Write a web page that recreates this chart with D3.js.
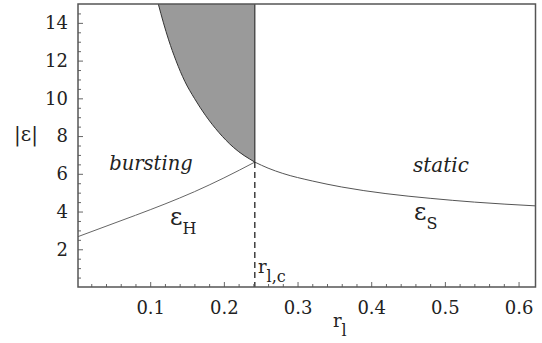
<!DOCTYPE html>
<html><head><meta charset="utf-8">
<script src="https://cdn.jsdelivr.net/npm/d3@7"></script>
<style>
html,body{margin:0;padding:0;background:#fff;}
svg text{font-family:"DejaVu Serif","Liberation Serif",serif;}
</style></head>
<body>
<svg id="chart" width="542" height="343"></svg>
<script>
// ---- data ----
const xTicks = [0.1, 0.2, 0.3, 0.4, 0.5, 0.6];
const yTicks = [2, 4, 6, 8, 10, 12, 14];
const rCritical = 0.242;
const epsCritical = 6.62;
// boundary of the grey region (upper branch)
const rGrey   = [0.111, 0.118, 0.125, 0.135, 0.147, 0.160, 0.175, 0.193, 0.213, 0.242];
const epsGrey = [15.0, 14.0, 13.1, 12.0, 10.9, 10.0, 9.1, 8.2, 7.4, 6.62];
// eps_H curve
const rH   = [0.002, 0.04, 0.08, 0.12, 0.16, 0.20, 0.242];
const epsH = [2.67, 3.22, 3.80, 4.40, 5.05, 5.78, 6.62];
// eps_S curve
const rS   = [0.242, 0.26, 0.28, 0.32, 0.36, 0.42, 0.48, 0.54, 0.623];
const epsS = [6.62, 6.30, 6.02, 5.62, 5.30, 4.95, 4.70, 4.50, 4.30];

const svg = d3.select("#chart");
const x = d3.scaleLinear().domain([0.002, 0.623]).range([78, 535.5]);
const y = d3.scaleLinear().domain([0, 15]).range([287, 4]);
const yTop = 15;

// grey region
const greyPts = rGrey.map((r, i) => [r, epsGrey[i]]);
svg.append("path")
  .datum(greyPts)
  .attr("d", d3.area().x(d => x(d[0])).y0(y(yTop)).y1(d => y(d[1])).curve(d3.curveMonotoneX))
  .attr("fill", "#9a9a9a");
svg.append("path")
  .datum(greyPts)
  .attr("d", d3.line().x(d => x(d[0])).y(d => y(d[1])).curve(d3.curveMonotoneX))
  .attr("fill", "none").attr("stroke", "#333").attr("stroke-width", 1);

// eps_H, eps_S curves
const line = d3.line().x(d => x(d[0])).y(d => y(d[1])).curve(d3.curveMonotoneX);
svg.append("path").datum(rH.map((r, i) => [r, epsH[i]]))
  .attr("d", line).attr("fill", "none").attr("stroke", "#666").attr("stroke-width", 1);
svg.append("path").datum(rS.map((r, i) => [r, epsS[i]]))
  .attr("d", line).attr("fill", "none").attr("stroke", "#555").attr("stroke-width", 1);

// critical vertical line
svg.append("line")
  .attr("x1", x(rCritical)).attr("x2", x(rCritical))
  .attr("y1", y(yTop)).attr("y2", y(epsCritical))
  .attr("stroke", "#333").attr("stroke-width", 1.2);
svg.append("line")
  .attr("x1", x(rCritical)).attr("x2", x(rCritical))
  .attr("y1", y(epsCritical)).attr("y2", y(0))
  .attr("stroke", "#222").attr("stroke-width", 1.3)
  .attr("stroke-dasharray", "6,4");

// axes (ticks inward)
const xMinor = d3.range(0.02, 0.62, 0.02).filter(v => Math.abs(v * 10 - Math.round(v * 10)) > 1e-6);
const yMinor = d3.range(0.5, 15, 0.5).filter(v => v % 2 !== 0);

const gx = svg.append("g").attr("transform", `translate(0,${y(0)})`)
  .call(d3.axisBottom(x).tickValues(xTicks).tickSizeInner(-5).tickSizeOuter(0).tickPadding(14).tickFormat(d3.format(".1f")));
const gxm = svg.append("g").attr("transform", `translate(0,${y(0)})`)
  .call(d3.axisBottom(x).tickValues(xMinor).tickSizeInner(-3).tickSizeOuter(0).tickFormat(""));
const gy = svg.append("g").attr("transform", `translate(${x.range()[0]},0)`)
  .call(d3.axisLeft(y).tickValues(yTicks).tickSizeInner(-5).tickSizeOuter(0).tickPadding(10));
const gym = svg.append("g").attr("transform", `translate(${x.range()[0]},0)`)
  .call(d3.axisLeft(y).tickValues(yMinor).tickSizeInner(-3).tickSizeOuter(0).tickFormat(""));
[gx, gxm, gy, gym].forEach(g => {
  g.attr("font-family", null);
  g.select(".domain").remove();
  g.selectAll(".tick line").attr("stroke", "#666").attr("stroke-width", 1);
  g.selectAll("text").attr("font-size", 18).attr("fill", "#222");
});

// frame
svg.append("rect")
  .attr("x", x.range()[0]).attr("y", y(yTop))
  .attr("width", x.range()[1] - x.range()[0]).attr("height", y(0) - y(yTop))
  .attr("fill", "none").attr("stroke", "#555").attr("stroke-width", 1.5);

// labels
const txt = (xx, yy, size, style) => svg.append("text").attr("x", xx).attr("y", yy)
  .attr("font-size", size).attr("font-style", style || "normal").attr("fill", "#222");

txt(151, 170, 19.5, "italic").attr("text-anchor", "middle").text("bursting");
txt(441, 172, 20, "italic").attr("text-anchor", "middle").text("static");

const eh = txt(170, 225, 24);
eh.append("tspan").text("ε");
eh.append("tspan").attr("font-size", 16).attr("dy", 9).text("H");

const es = txt(414, 220, 24);
es.append("tspan").text("ε");
es.append("tspan").attr("font-size", 16).attr("dy", 9).text("S");

const rc = txt(258, 273, 18);
rc.append("tspan").text("r");
rc.append("tspan").attr("font-size", 16).attr("dy", 9).text("l,c");

const rl = txt(333, 327, 18);
rl.append("tspan").text("r");
rl.append("tspan").attr("font-size", 16).attr("dy", 9).text("l");

txt(26, 141, 20).attr("text-anchor", "middle").text("|ε|");
</script>
</body></html>
